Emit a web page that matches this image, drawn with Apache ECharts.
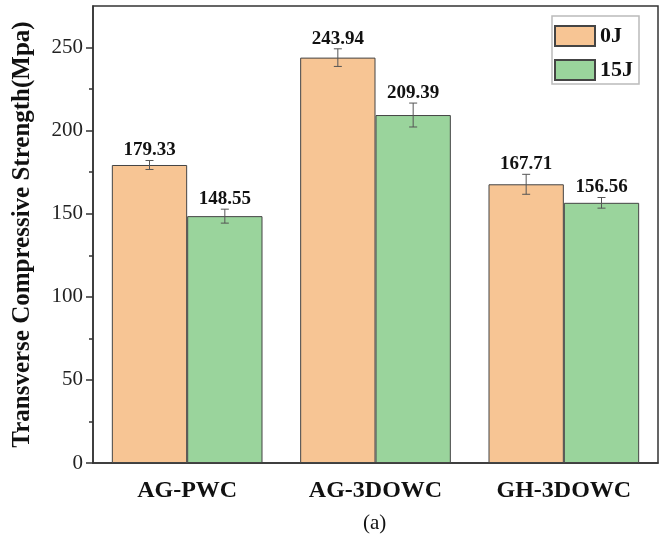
<!DOCTYPE html>
<html>
<head>
<meta charset="utf-8">
<script src="https://cdn.jsdelivr.net/npm/echarts@6/dist/echarts.min.js"></script>
<style>
  html, body { margin: 0; padding: 0; background: #fff; }
  #chart { width: 668px; height: 544px; }
</style>
</head>
<body>
<div id="chart"></div>
<script>
// Specimen groups and impact energies
const categories = ['AG-PWC', 'AG-3DOWC', 'GH-3DOWC'];
const seriesNames = ['0J', '15J'];

// Mean transverse compressive strength (MPa) and standard deviation
const strength0J = [179.33, 243.94, 167.71];
const strength15J = [148.55, 209.39, 156.56];
const error0J = [2.7, 5.3, 6.0];
const error15J = [4.2, 7.2, 3.2];

// Axis ticks
const majorTicks = [0, 50, 100, 150, 200, 250];
const minorTicks = [25, 75, 125, 175, 225];

const colors = ['#F7C594', '#9AD49C'];
const serif = '"Liberation Serif", "Times New Roman", serif';

const chart = echarts.init(document.getElementById('chart'));

// Error bar plus value label, shifted to the left or right half of each band
function errorSeries(name, values, errors, side) {
  return {
    name: name + '-err',
    type: 'custom',
    z: 10,
    data: values.map((v, i) => [i, v, errors[i]]),
    renderItem: function (params, api) {
      const idx = api.value(0);
      const v = api.value(1);
      const e = api.value(2);
      const band = api.size([1, 0])[0];
      const c = api.coord([idx, v]);
      const x = c[0] + side * band * 0.2;
      const yTop = api.coord([idx, v + e])[1];
      const yBot = api.coord([idx, v - e])[1];
      const cap = 4;
      const st = { stroke: '#555', lineWidth: 1 };
      return {
        type: 'group',
        children: [
          { type: 'line', shape: { x1: x, y1: yTop, x2: x, y2: yBot }, style: st },
          { type: 'line', shape: { x1: x - cap, y1: yTop, x2: x + cap, y2: yTop }, style: st },
          { type: 'line', shape: { x1: x - cap, y1: yBot, x2: x + cap, y2: yBot }, style: st },
          {
            type: 'text',
            style: {
              text: v.toFixed(2),
              x: x,
              y: yTop - 10,
              align: 'center',
              verticalAlign: 'middle',
              fontFamily: serif,
              fontWeight: 'bold',
              fontSize: 19,
              fill: '#111'
            }
          }
        ]
      };
    }
  };
}

const option = {
  animation: false,
  backgroundColor: '#fff',
  grid: {
    left: 93, right: 10, top: 6, bottom: 81,
    show: true, borderColor: '#333', borderWidth: 1.5
  },
  legend: {
    data: seriesNames,
    orient: 'vertical',
    left: 552, top: 16,
    padding: [9, 6, 3, 2],
    itemGap: 12,
    itemWidth: 40, itemHeight: 20,
    icon: 'rect',
    backgroundColor: '#fff',
    borderColor: '#bbb', borderWidth: 1.5,
    textStyle: { fontFamily: serif, fontWeight: 'bold', fontSize: 22, color: '#111' }
  },
  xAxis: {
    type: 'category',
    data: categories,
    axisLine: { lineStyle: { color: '#333', width: 1.5 } },
    axisTick: { show: false },
    axisLabel: { fontFamily: serif, fontWeight: 'bold', fontSize: 24, color: '#111', margin: 16 }
  },
  yAxis: [
    {
      type: 'value',
      min: 0, max: 275,
      name: 'Transverse Compressive Strength(Mpa)',
      nameLocation: 'middle',
      nameGap: 58,
      nameTextStyle: { fontFamily: serif, fontWeight: 'bold', fontSize: 25, color: '#111' },
      axisLine: { show: true, lineStyle: { color: '#333', width: 1.5 } },
      axisTick: { show: true, inside: false, length: 7, customValues: majorTicks, lineStyle: { color: '#333', width: 1.5 } },
      axisLabel: { customValues: majorTicks, fontFamily: serif, fontSize: 21, color: '#222', margin: 10 },
      splitLine: { show: false }
    },
    {
      type: 'value',
      min: 0, max: 275,
      position: 'left',
      axisLine: { show: false },
      axisTick: { show: true, inside: false, length: 4, customValues: minorTicks, lineStyle: { color: '#333', width: 1.5 } },
      axisLabel: { show: false },
      splitLine: { show: false }
    }
  ],
  series: [
    {
      name: seriesNames[0],
      type: 'bar',
      data: strength0J,
      barGap: '0%',
      barCategoryGap: '20%',
      itemStyle: { color: colors[0], borderColor: '#444', borderWidth: 1 }
    },
    {
      name: seriesNames[1],
      type: 'bar',
      data: strength15J,
      barGap: '0%',
      barCategoryGap: '20%',
      itemStyle: { color: colors[1], borderColor: '#444', borderWidth: 1 }
    },
    errorSeries(seriesNames[0], strength0J, error0J, -1),
    errorSeries(seriesNames[1], strength15J, error15J, 1)
  ],
  graphic: [
    {
      type: 'text',
      left: 363, top: 513,
      style: { text: '(a)', fontFamily: serif, fontSize: 21, fill: '#111' }
    }
  ]
};

chart.setOption(option);
</script>
</body>
</html>
